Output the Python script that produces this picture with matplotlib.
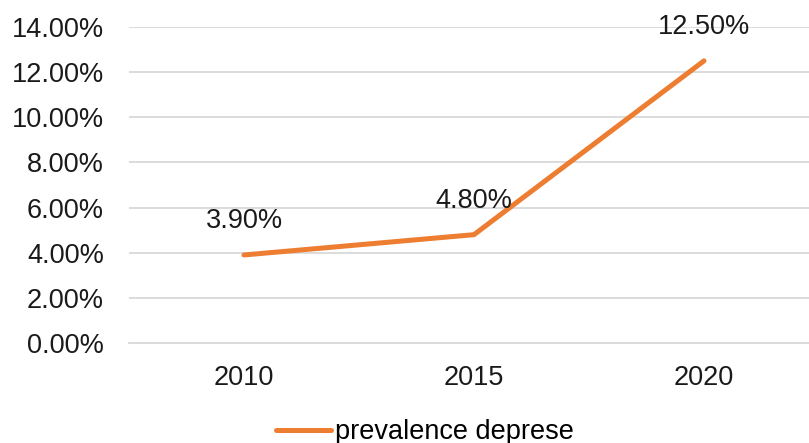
import matplotlib
matplotlib.use("Agg")
import matplotlib.pyplot as plt
from matplotlib.ticker import FuncFormatter

# data
tahun = ["2010", "2015", "2020"]
prevalensi = [3.9, 4.8, 12.5]
label_seri = "prevalence deprese"

plt.rcParams['font.family'] = ['Liberation Sans', 'DejaVu Sans']

fig = plt.figure(figsize=(8.09, 4.43), dpi=100)
# area plot kira-kira dari x=129 s/d 818 piksel, y=27 s/d 343 piksel
ax = fig.add_axes([129 / 809, 1 - 343 / 443, 690 / 809, 316 / 443])

x = list(range(len(tahun)))
ax.plot(x, prevalensi, color='#ED7D31', linewidth=3.6, solid_capstyle='round',
        solid_joinstyle='miter', label=label_seri, zorder=3)

for xi, yi in zip(x, prevalensi):
    ax.annotate(f'{yi:.2f}%', (xi, yi), xytext=(0, 15), textcoords='offset points',
                ha='center', va='bottom', fontsize=19.5, color='#1a1a1a')

ax.set_xlim(-0.5, 2.5)
ax.set_ylim(0, 14)
ax.set_yticks([0, 2, 4, 6, 8, 10, 12, 14])
ax.yaxis.set_major_formatter(FuncFormatter(lambda v, p: f'{v:.2f}%'))
ax.set_xticks(x)
ax.set_xticklabels(tahun)
ax.tick_params(axis='both', length=0, labelsize=19.5, labelcolor='#1a1a1a')
ax.tick_params(axis='y', pad=18)
ax.tick_params(axis='x', pad=16)

ax.grid(axis='y', color='#d9d9d9', linewidth=1.3, zorder=0)
for s in ['top', 'right', 'left']:
    ax.spines[s].set_visible(False)
ax.spines['bottom'].set_color('#d9d9d9')
ax.spines['bottom'].set_linewidth(1.3)

fig.legend(loc='center', bbox_to_anchor=(425 / 809, 1 - 432 / 443), frameon=False,
           fontsize=19.5, handlelength=2.0, handletextpad=0.15, borderaxespad=0)

fig.savefig('out.png', dpi=100)
